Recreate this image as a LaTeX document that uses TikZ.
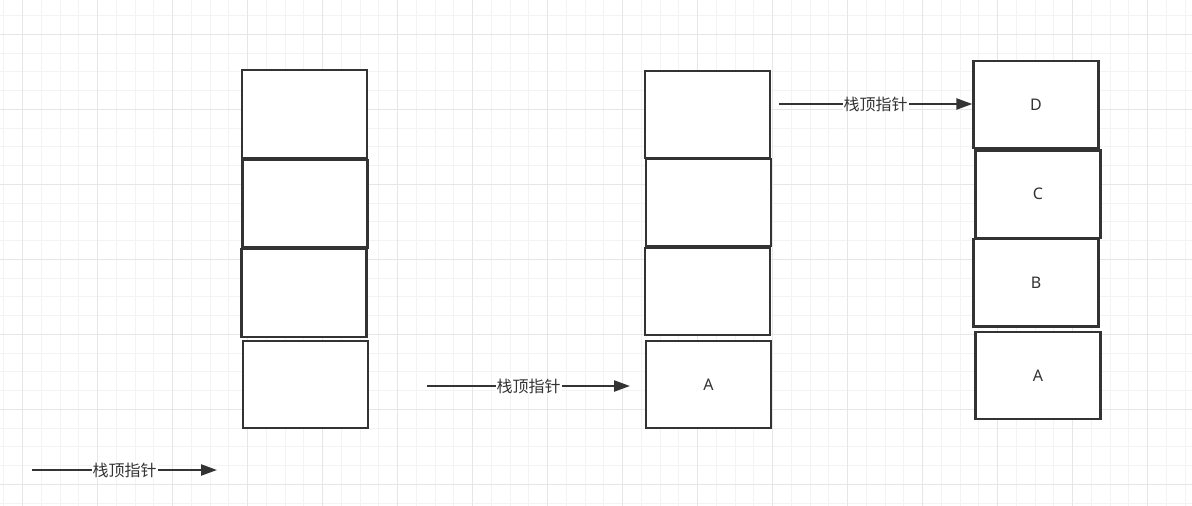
\documentclass[tikz,border=0pt]{standalone}
\usepackage{fontspec}
\setmainfont{Noto Sans}
\newfontfamily\cjk{Noto Sans CJK SC}
\usetikzlibrary{arrows.meta}
\definecolor{ink}{HTML}{333333}
\definecolor{gridminor}{HTML}{F3F3F3}
\definecolor{gridmajor}{HTML}{E6E6E6}
\tikzset{
  stackbox/.style={draw=ink, line width=2.3pt, fill=white, minimum width=125pt, minimum height=87.5pt, inner sep=0pt, font=\fontsize{16}{16}\selectfont, text=ink},
  ptr/.style={draw=ink, line width=2.3pt, -{Triangle[length=16pt,width=11pt]}},
  ptrlabel/.style={fill=white, inner sep=1pt, font=\cjk\fontsize{16}{16}\selectfont, text=ink}
}
\begin{document}
\begin{tikzpicture}[x=1pt,y=-1pt]
\useasboundingbox (0,0) rectangle (1192,506);
\fill[white] (0,0) rectangle (1192,506);
% grid
\foreach \i in {0,...,64}{
  \pgfmathsetmacro\gx{3.95+18.75*\i}
  \draw[gridminor, line width=1pt] (\gx,0) -- (\gx,506);
}
\foreach \i in {0,...,27}{
  \pgfmathsetmacro\gy{15.55+18.75*\i}
  \draw[gridminor, line width=1pt] (0,\gy) -- (1192,\gy);
}
\foreach \i in {0,...,15}{
  \pgfmathsetmacro\gx{22.7+75*\i}
  \draw[gridmajor, line width=1pt] (\gx,0) -- (\gx,506);
}
\foreach \i in {0,...,6}{
  \pgfmathsetmacro\gy{34.3+75*\i}
  \draw[gridmajor, line width=1pt] (0,\gy) -- (1192,\gy);
}
% stack 1
\node[stackbox] (s1a) at (304.2,114) {};
\node[stackbox] (s1b) at (305,203.8) {};
\node[stackbox] (s1c) at (304,293) {};
\node[stackbox] (s1d) at (305.2,384.5) {};
% stack 2
\node[stackbox] (s2a) at (707.5,114.5) {};
\node[stackbox] (s2b) at (708.5,202.5) {};
\node[stackbox] (s2c) at (707.5,291.5) {};
\node[stackbox] (s2d) at (708.5,384.5) {A};
% stack 3
\node[stackbox] (s3d) at (1036,104.5) {D};
\node[stackbox] (s3c) at (1038,194.2) {C};
\node[stackbox] (s3b) at (1036,282.8) {B};
\node[stackbox] (s3a) at (1038,375.5) {A};
% pointers
\coordinate (p1s) at (32,470);
\coordinate (p1e) at (217,470);
\coordinate (p2s) at (427,386);
\coordinate (p2e) at (630,386);
\coordinate (p3s) at (779,104);
\draw[ptr] (p1s) -- node[ptrlabel] (l1) {栈顶指针} (p1e);
\draw[ptr] (p2s) -- node[ptrlabel] (l2) {栈顶指针} (p2e);
\draw[ptr] (p3s) -- node[ptrlabel] (l3) {栈顶指针} (p3s -| s3d.west);
\end{tikzpicture}
\end{document}
